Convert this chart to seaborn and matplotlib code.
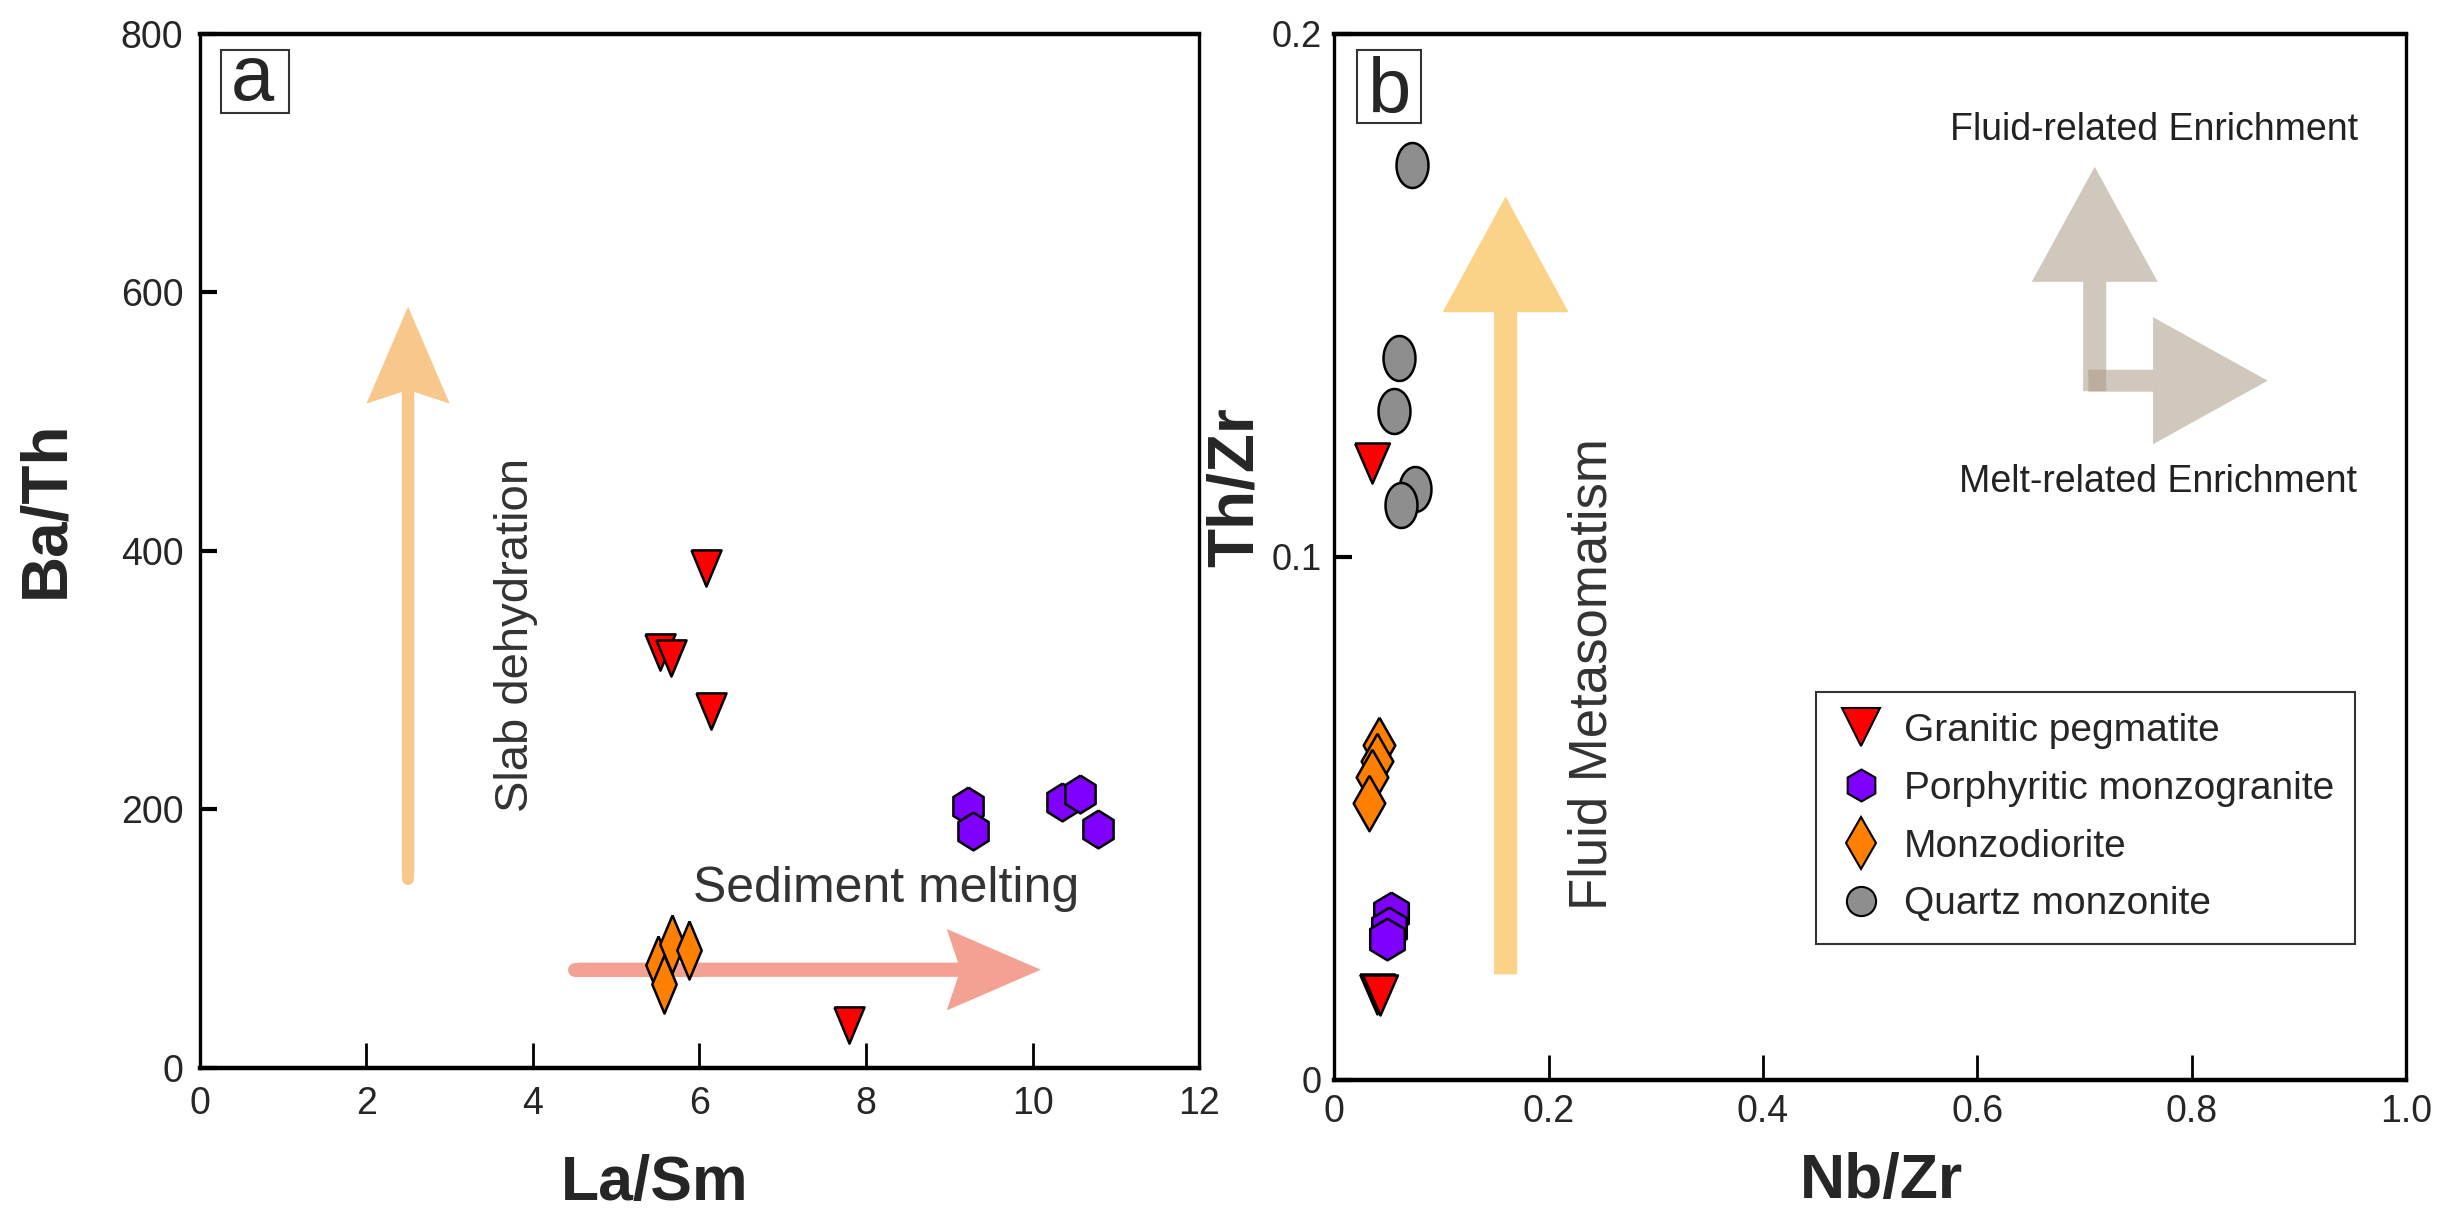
import numpy as np
import pandas as pd
import matplotlib
matplotlib.use('Agg')
import matplotlib.pyplot as plt
import seaborn as sns
from matplotlib import font_manager
from matplotlib.patches import FancyArrow, Rectangle
from matplotlib.lines import Line2D

# rock types and their colours
rock_types = ['Granitic pegmatite', 'Porphyritic monzogranite', 'Monzodiorite', 'Quartz monzonite']
rock_colors = ['#FF0000', '#8000FF', '#FF8000', '#8E8E8E']

# panel a : La/Sm vs Ba/Th
peg_lasm = [6.08, 5.53, 5.66, 6.14, 7.80]
peg_bath = [387, 322, 317, 276, 33]
por_lasm = [9.23, 9.28, 10.35, 10.57, 10.79]
por_bath = [203, 183, 206, 212, 185]
mzd_lasm = [5.50, 5.57, 5.67, 5.88]
mzd_bath = [80, 65, 96, 91]

# panel b : Nb/Zr vs Th/Zr
peg_nbzr = [0.035, 0.040, 0.043]
peg_thzr = [0.118, 0.0165, 0.0162]
por_nbzr = [0.053, 0.051, 0.049]
por_thzr = [0.032, 0.029, 0.027]
mzd_nbzr = [0.042, 0.040, 0.035, 0.033]
mzd_thzr = [0.064, 0.061, 0.058, 0.053]
qmz_nbzr = [0.0725, 0.061, 0.056, 0.075, 0.062]
qmz_thzr = [0.175, 0.138, 0.128, 0.113, 0.110]

# axis ticks
a_xticks = [0, 2, 4, 6, 8, 10, 12]
a_yticks = [0, 200, 400, 600, 800]
b_xticks = [0, 0.2, 0.4, 0.6, 0.8, 1.0]
b_xlabels = ['0', '0.2', '0.4', '0.6', '0.8', '1.0']
b_yticks = [0, 0.1, 0.2]
b_ylabels = ['0', '0.1', '0.2']


def tri_down(w):
    return np.array([(-w / 2, 0.5), (w / 2, 0.5), (0, -0.5), (-w / 2, 0.5)])


def hexagon(w):
    return np.array([(0, 0.5), (w / 2, 0.25), (w / 2, -0.25), (0, -0.5),
                     (-w / 2, -0.25), (-w / 2, 0.25), (0, 0.5)])


def diamond(w):
    return np.array([(0, 0.5), (w / 2, 0), (0, -0.5), (-w / 2, 0), (0, 0.5)])


def ellipse(w):
    t = np.linspace(0, 2 * np.pi, 60)
    return np.column_stack([w / 2 * np.cos(t), 0.5 * np.sin(t)])


sns.set_style('ticks')
names = {f.name for f in font_manager.fontManager.ttflist}
narrow = 'Liberation Sans Narrow' if 'Liberation Sans Narrow' in names else 'Liberation Sans'
plt.rcParams['font.family'] = ['Liberation Sans', 'DejaVu Sans']

fig = plt.figure(figsize=(24.47, 12.25), dpi=100)
axa = fig.add_axes([0.0817, 0.1282, 0.4083, 0.8441])
axb = fig.add_axes([0.5452, 0.1184, 0.4381, 0.8539])

# ---------------- panel a ----------------
df_a = pd.DataFrame({
    'La/Sm': peg_lasm + por_lasm + mzd_lasm,
    'Ba/Th': peg_bath + por_bath + mzd_bath,
    'rock': [rock_types[0]] * len(peg_lasm) + [rock_types[1]] * len(por_lasm) + [rock_types[2]] * len(mzd_lasm),
})

# arrows
axa.add_patch(FancyArrow(2.5, 150, 0, 589 - 150, width=0.15, head_width=1.0, head_length=75,
                         length_includes_head=True, overhang=0.12, color='#F8C78C', lw=0, zorder=1))
axa.plot([2.5, 2.5], [146, 300], color='#F8C78C', lw=8.6, solid_capstyle='round', zorder=1)
axa.add_patch(FancyArrow(4.55, 76, 10.1 - 4.55, 0, width=11, head_width=63, head_length=1.13,
                         length_includes_head=True, overhang=0.12, color='#F3A192', lw=0, zorder=1))
axa.plot([4.5, 6.0], [76, 76], color='#F3A192', lw=10, solid_capstyle='round', zorder=1)

a_markers = {rock_types[0]: (tri_down(0.83), 680),
             rock_types[1]: (hexagon(0.8), 740),
             rock_types[2]: (diamond(0.42), 1750)}
for rock, (mk, sz) in a_markers.items():
    sub = df_a[df_a['rock'] == rock]
    sns.scatterplot(data=sub, x='La/Sm', y='Ba/Th', ax=axa, marker=mk, s=sz,
                    color=rock_colors[rock_types.index(rock)], edgecolor='black',
                    linewidth=1.8, zorder=3, legend=False)

axa.text(3.8, 335, 'Slab dehydration', rotation=90, ha='center', va='center', fontsize=34, color='#333333')
axa.text(8.24, 128.7, 'Sediment melting', ha='center', va='baseline', fontsize=36, color='#333333')

axa.set_xlim(0, 12)
axa.set_ylim(0, 800)
axa.set_xticks(a_xticks)
axa.set_xticklabels([str(t) for t in a_xticks])
axa.set_yticks(a_yticks)
axa.set_yticklabels([str(t) for t in a_yticks])
axa.set_xlabel('La/Sm', fontsize=45, fontweight='bold', va='center')
axa.set_ylabel('Ba/Th', fontsize=46, fontweight='bold', va='center')
axa.xaxis.set_label_coords(0.4555, -0.112)
axa.yaxis.set_label_coords(-0.154, 0.54)
axa.tick_params(axis='x', direction='in', length=18, width=2, labelsize=27, pad=13, color='black')
axa.tick_params(axis='y', direction='in', length=12, width=3, labelsize=27, pad=12, color='black')

axa.add_patch(Rectangle((0.021, 0.9236), 0.068, 0.0609, transform=axa.transAxes,
                        fill=False, ec='#333333', lw=1.5, zorder=4))
axa.text(0.053, 0.936, 'a', transform=axa.transAxes, ha='center', va='baseline', fontsize=56)

# ---------------- panel b ----------------
df_b = pd.DataFrame({
    'Nb/Zr': peg_nbzr + por_nbzr + mzd_nbzr + qmz_nbzr,
    'Th/Zr': peg_thzr + por_thzr + mzd_thzr + qmz_thzr,
    'rock': [rock_types[0]] * len(peg_nbzr) + [rock_types[1]] * len(por_nbzr)
            + [rock_types[2]] * len(mzd_nbzr) + [rock_types[3]] * len(qmz_nbzr),
})

axb.add_patch(FancyArrow(0.16, 0.0202, 0, 0.1689 - 0.0202, width=0.0215, head_width=0.1175,
                         head_length=0.0221, length_includes_head=True, color='#FAD389', lw=0, zorder=1))
gray = '#AA9A88'
axb.add_patch(FancyArrow(0.7095, 0.1317, 0, 0.1746 - 0.1317, width=0.0215, head_width=0.1175,
                         head_length=0.022, length_includes_head=True, color=gray, alpha=0.55, lw=0, zorder=1))
axb.add_patch(FancyArrow(0.7035, 0.1337, 0.8709 - 0.7035, 0, width=0.0042, head_width=0.0243,
                         head_length=0.107, length_includes_head=True, color=gray, alpha=0.55, lw=0, zorder=1))

b_markers = {rock_types[0]: (tri_down(0.87), 830),
             rock_types[1]: (hexagon(0.83), 900),
             rock_types[2]: (diamond(0.57), 1600),
             rock_types[3]: (ellipse(0.71), 1050)}
for rock, (mk, sz) in b_markers.items():
    sub = df_b[df_b['rock'] == rock]
    sns.scatterplot(data=sub, x='Nb/Zr', y='Th/Zr', ax=axb, marker=mk, s=sz,
                    color=rock_colors[rock_types.index(rock)], edgecolor='black',
                    linewidth=1.8, zorder=3, legend=False)

axb.text(0.2407, 0.0776, 'Fluid Metasomatism', rotation=90, ha='center', va='center',
         fontsize=38, color='#333333')
axb.text(0.7646, 0.1797, 'Fluid-related Enrichment', ha='center', va='baseline',
         fontsize=27, color='#222222', family=narrow)
axb.text(0.7683, 0.1124, 'Melt-related Enrichment', ha='center', va='baseline',
         fontsize=27, color='#222222', family=narrow)

axb.set_xlim(0, 1.0)
axb.set_ylim(0, 0.2)
axb.set_xticks(b_xticks)
axb.set_xticklabels(b_xlabels)
axb.set_yticks(b_yticks)
axb.set_yticklabels(b_ylabels)
axb.set_xlabel('Nb/Zr', fontsize=45, fontweight='bold', va='center')
axb.set_ylabel('Th/Zr', fontsize=46, fontweight='bold', va='center')
axb.xaxis.set_label_coords(0.511, -0.0975)
axb.yaxis.set_label_coords(-0.092, 0.567)
axb.tick_params(axis='x', direction='in', length=18, width=2, labelsize=27, pad=10, color='black')
axb.tick_params(axis='y', direction='in', length=13, width=3, labelsize=26, pad=9, color='black')

axb.add_patch(Rectangle((0.0215, 0.915), 0.0597, 0.0698, transform=axb.transAxes,
                        fill=False, ec='#333333', lw=1.5, zorder=4))
axb.text(0.0513, 0.9248, 'b', transform=axb.transAxes, ha='center', va='baseline', fontsize=56)

handles = [
    Line2D([], [], ls='none', marker='v', ms=28, mfc=rock_colors[0], mec='black', mew=1.5),
    Line2D([], [], ls='none', marker='h', ms=23, mfc=rock_colors[1], mec='black', mew=1.5),
    Line2D([], [], ls='none', marker='d', ms=26, mfc=rock_colors[2], mec='black', mew=1.5),
    Line2D([], [], ls='none', marker='o', ms=21, mfc=rock_colors[3], mec='black', mew=1.5),
]
leg = axb.legend(handles, rock_types, loc='upper left', bbox_to_anchor=(0.4496, 0.3712),
                 borderaxespad=0, frameon=True, fancybox=False, framealpha=1,
                 prop={'family': narrow, 'size': 28}, labelspacing=0.56,
                 handletextpad=0.5, borderpad=0.55, handlelength=1.2)
leg.get_frame().set_edgecolor('#333333')
leg.get_frame().set_linewidth(1.5)

for ax in (axa, axb):
    for lab in ax.get_xticklabels() + ax.get_yticklabels():
        lab.set_family(narrow)
    for side in ('top', 'bottom'):
        ax.spines[side].set_linewidth(3.2)
        ax.spines[side].set_color('black')
    for side in ('left', 'right'):
        ax.spines[side].set_linewidth(2.4)
        ax.spines[side].set_color('black')

fig.savefig('out.png', dpi=100)
